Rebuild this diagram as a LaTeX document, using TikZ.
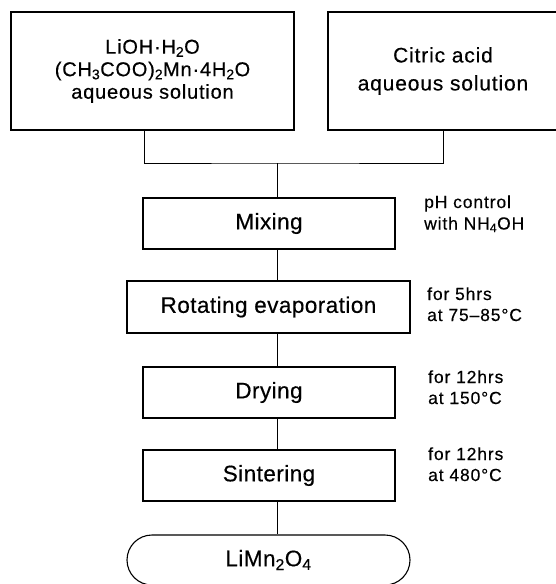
\documentclass[tikz,border=0pt]{standalone}
\usepackage{fontspec}
\setmainfont{Liberation Sans}
\newfontfamily\mainfont[LetterSpace=2,FakeBold=0.4]{Liberation Sans}
\newfontfamily\boxfont[LetterSpace=4,FakeBold=0.4]{Liberation Sans}
\newfontfamily\sidefont[LetterSpace=5,FakeBold=0.3]{Liberation Sans}
\usetikzlibrary{shapes.misc}
\tikzset{
  procbox/.style={draw, line width=1.1pt, rectangle, inner sep=0pt, anchor=center,
    font=\fontsize{22.5}{26}\selectfont\mainfont},
  srcbox/.style={draw, line width=1.1pt, rectangle, inner sep=0pt, anchor=center, align=center},
  sidetext/.style={inner sep=0pt, anchor=base west, font=\fontsize{17.5}{21}\selectfont\sidefont},
  conn/.style={line width=0.7pt},
}
\begin{document}
\begin{tikzpicture}[x=1pt,y=1pt]
\useasboundingbox (0,0) rectangle (555,-584);
% source boxes
\node[srcbox, minimum width=283pt, minimum height=118pt,
  font=\fontsize{20}{22.5}\selectfont\boxfont] (b1) at (152.5,-71)
  {LiOH·H\textsubscript{2}O\\(CH\textsubscript{3}COO)\textsubscript{2}Mn·4H\textsubscript{2}O\\aqueous solution};
\node[srcbox, minimum width=230pt, minimum height=118pt,
  font=\fontsize{21}{28}\selectfont\boxfont] (b2) at (443,-71)
  {Citric acid\\aqueous solution};
% process boxes
\node[procbox, minimum width=252pt, minimum height=51pt] (mix) at (269,-223.5) {Mixing};
\node[procbox, minimum width=283pt, minimum height=52pt] (rot) at (268.5,-307) {Rotating evaporation};
\node[procbox, minimum width=252pt, minimum height=51pt] (dry) at (269,-392.5) {Drying};
\node[procbox, minimum width=252pt, minimum height=51pt] (sint) at (269,-475.5) {Sintering};
\node[draw, line width=1.1pt, rounded rectangle, rounded rectangle arc length=180,
  minimum width=283pt, minimum height=50pt, inner sep=0pt,
  font=\fontsize{22.5}{26}\selectfont\mainfont] (li) at (268.5,-560) {LiMn\textsubscript{2}O\textsubscript{4}};
% side notes
\node[sidetext] (s1a) at (424,-208) {pH control};
\node[sidetext] (s1b) at (424,-229.5) {with NH\textsubscript{4}OH};
\node[sidetext] (s2a) at (427,-300) {for 5hrs};
\node[sidetext] (s2b) at (427,-321) {at 75–85°C};
\node[sidetext] (s3a) at (428,-383) {for 12hrs};
\node[sidetext] (s3b) at (428,-404) {at 150°C};
\node[sidetext] (s4a) at (428,-460) {for 12hrs};
\node[sidetext] (s4b) at (428,-481) {at 480°C};
% connectors
\coordinate (j) at (277,-163);
\draw[conn] ([xshift=-8.5pt]b1.south) |- (j) -| (b2.south);
\draw[conn] (j) -- (j |- mix.north);
\draw[conn] ([xshift=8pt]mix.south) -- ([xshift=8pt]mix.south |- rot.north);
\draw[conn] ([xshift=8.5pt]rot.south) -- ([xshift=8.5pt]rot.south |- dry.north);
\draw[conn] ([xshift=8pt]dry.south) -- ([xshift=8pt]dry.south |- sint.north);
\draw[conn] ([xshift=8pt]sint.south) -- ([xshift=8pt]sint.south |- li.north);
\end{tikzpicture}
\end{document}
